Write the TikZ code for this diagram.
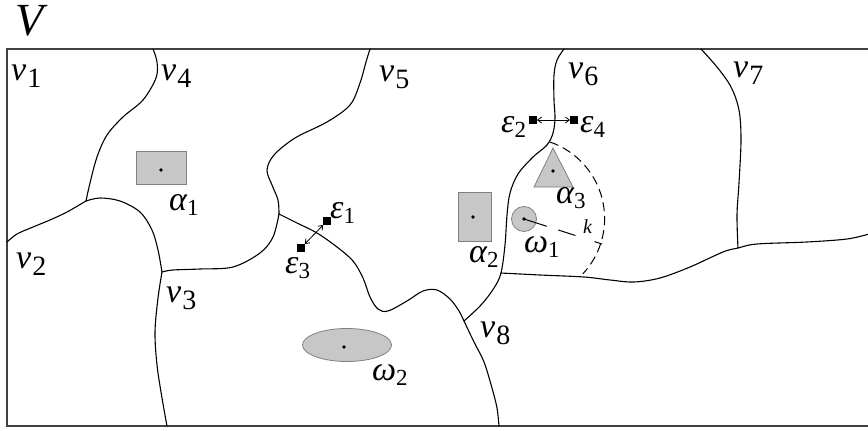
\documentclass[tikz,border=0pt]{standalone}
\usepackage{fontspec}
\setmainfont{Liberation Serif}
\usetikzlibrary{arrows.meta}
\newcommand\vlab[1]{{\fontsize{34}{34}\selectfont\itshape v}\kern1pt\raisebox{-7pt}{\fontsize{28}{28}\selectfont #1}}
\newcommand\glab[2]{{\fontsize{34}{34}\selectfont\itshape #1}\raisebox{-5pt}{\fontsize{23}{23}\selectfont #2}}
\begin{document}
\begin{tikzpicture}[x=1pt,y=-1pt,
  bnd/.style={line width=1.1pt, line join=round, line cap=round},
  obj/.style={fill=black!22, draw=black!50, line width=0.8pt},
  dotc/.style={circle, fill=black, inner sep=0pt, minimum size=3.6pt},
  sqr/.style={fill=black, inner sep=0pt, minimum size=7.5pt},
  lab/.style={anchor=base west, inner sep=0pt},
  dsh/.style={line width=1pt, dash pattern=on 9pt off 5pt},
  arr/.style={line width=0.8pt, {Straight Barb[length=4pt,width=6pt]}-{Straight Barb[length=4pt,width=6pt]}}]
\useasboundingbox (0,0) rectangle (868,431);
% frame
\draw[line width=1.4pt, black!75] (869,49) -- (7,49) -- (7,426) -- (869,426);
\node[lab] (V) at (15,35) {\fontsize{46}{46}\selectfont\itshape V};
% junctions
\coordinate (J1) at (86,201);
\coordinate (J2) at (162,272);
\coordinate (J3) at (279,214);
\coordinate (J4) at (464,321);
\coordinate (J5) at (501,273);
\coordinate (J6) at (738,248);
% boundaries
\draw[bnd] plot[smooth, tension=0.55] coordinates {(153,49) (157,62) (156,78) (143,100) (123,117) (107,135) (97,157) (90,183) (J1)};
\draw[bnd] plot[smooth, tension=0.55] coordinates {(J1) (67,212) (50,220) (33,227) (17,234) (7,242)};
\draw[bnd] plot[smooth, tension=0.55] coordinates {(J1) (100,198) (120,201) (140,212) (152,230) (158,250) (J2)};
\draw[bnd] plot[smooth, tension=0.55] coordinates {(J2) (158,298) (155,332) (157,365) (162,398) (167,426)};
\draw[bnd] plot[smooth, tension=0.55] coordinates {(J2) (173,270) (200,269) (233,267) (260,253) (273,237) (J3)};
\draw[bnd] plot[smooth, tension=0.55] coordinates {(370,49) (366,62) (360,83) (350,105) (327,122) (295,138) (274,155) (267,170) (272,185) (278,200) (J3)};
\draw[bnd] plot[smooth, tension=0.55] coordinates {(J3) (297,223) (317,233) (337,247) (353,261) (363,278) (370,297) (378,309) (388,311) (407,301) (423,291) (437,290) (450,299) (459,311) (J4)};
\draw[bnd] plot[smooth, tension=0.55] coordinates {(J4) (474,342) (484,362) (492,388) (497,408) (499,426)};
\draw[bnd] plot[smooth, tension=0.55] coordinates {(J4) (481,305) (494,288) (J5) (505,245) (507,215) (510,193) (518,174) (533,157) (547,145) (553,133) (555,118) (554,100) (554,75) (557,60) (564,49)};
\draw[bnd] plot[smooth, tension=0.55] coordinates {(J5) (540,275) (584,277) (610,280) (634,282) (660,278) (690,267) (723,252) (J6) (757,244) (807,242) (847,239) (869,234)};
\draw[bnd] plot[smooth, tension=0.55] coordinates {(701,49) (717,67) (731,87) (739,110) (741,140) (739,183) (737,215) (J6)};
% objects
\node[obj, rectangle, minimum width=50pt, minimum height=33pt, inner sep=0pt] (a1) at (161,167.5) {};
\node[dotc] (a1c) at (161,170) {};
\node[obj, rectangle, minimum width=33pt, minimum height=49pt, inner sep=0pt] (a2) at (474.5,216.5) {};
\node[dotc] (a2c) at (473,217) {};
\draw[obj] (553,148) -- (573,187) -- (534,187) -- cycle;
\node[dotc] (a3c) at (553,171) {};
\draw[obj] (347,345) ellipse [x radius=44.5, y radius=16.5];
\node[dotc] (w2c) at (344,347) {};
\node[obj, circle, minimum size=25pt, inner sep=0pt] (w1) at (524,219) {};
\node[dotc] (w1c) at (524,219) {};
% k radius and dashed arc
\coordinate (kend) at (602,244);
\draw[line width=1pt, dash pattern=on 24pt off 12pt on 18pt off 20pt on 12pt] (w1c.center) -- (kend);
\draw[dsh] (550,142) arc[start angle=-71, end angle=43, radius=81];
% epsilon markers
\node[sqr] (e2) at (533,120) {};
\node[sqr] (e4) at (574,120) {};
\draw[arr] (e2) -- (e4);
\node[sqr] (e1) at (327,221) {};
\node[sqr] (e3) at (301,248) {};
\draw[arr] (e1) -- (e3);
% labels
\node[lab] (lv1) at (11,80) {\vlab{1}};
\node[lab] (lv4) at (161,80) {\vlab{4}};
\node[lab] (lv5) at (379,81) {\vlab{5}};
\node[lab] (lv6) at (568,78) {\vlab{6}};
\node[lab] (lv7) at (733,77) {\vlab{7}};
\node[lab] (lv2) at (16,268) {\vlab{2}};
\node[lab] (lv3) at (166,302) {\vlab{3}};
\node[lab] (lv8) at (480,337) {\vlab{8}};
\node[lab] (la1) at (169,210) {\glab{α}{1}};
\node[lab] (la2) at (469,262) {\glab{α}{2}};
\node[lab] (la3) at (556,203) {\glab{α}{3}};
\node[lab] (le1) at (330,218) {\glab{ε}{1}};
\node[lab] (le3) at (285,273) {\glab{ε}{3}};
\node[lab] (le2) at (501,132) {\glab{ε}{2}};
\node[lab] (le4) at (580,132) {\glab{ε}{4}};
\node[lab] (lw1) at (524,252) {\glab{ω}{1}};
\node[lab] (lw2) at (372,380) {\glab{ω}{2}};
\node[lab] (lk) at (583,233) {\fontsize{20}{20}\selectfont\itshape k};
\end{tikzpicture}
\end{document}
